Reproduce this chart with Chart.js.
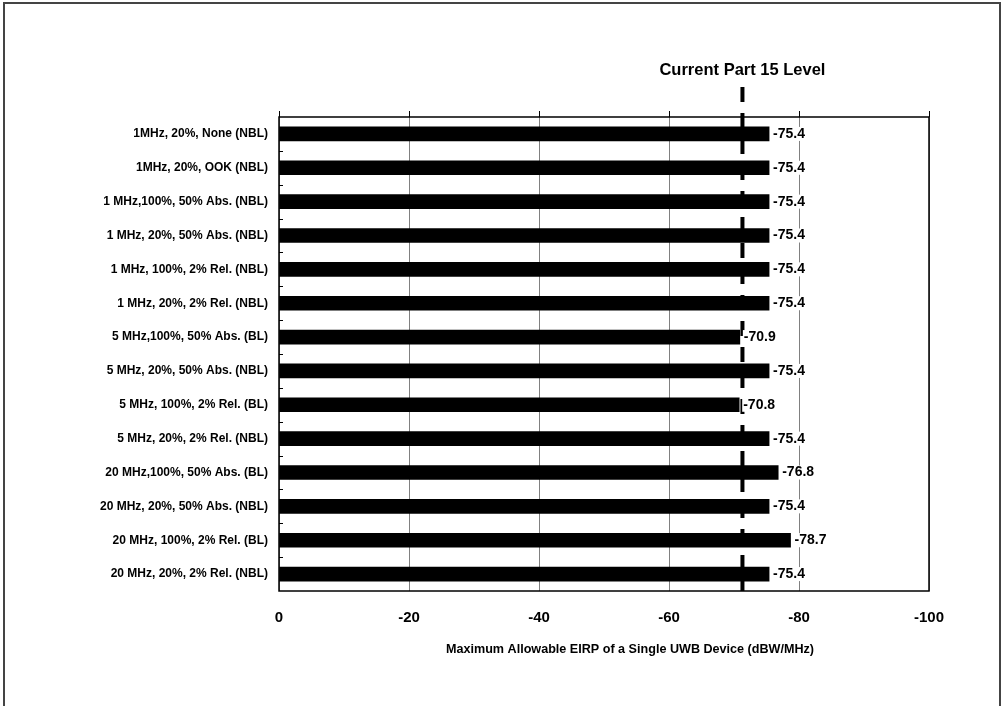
<!DOCTYPE html>
<html>
<head>
<meta charset="utf-8">
<script src="https://cdn.jsdelivr.net/npm/chart.js@4.4.1/dist/chart.umd.min.js"></script>
<style>
    body { margin: 0; background: #fff; overflow: hidden; }
    #wrap { position: relative; width: 1002px; height: 706px; }
    #frame { position: absolute; left: 3px; top: 2px; width: 998px; height: 740px; border: 2px solid #444; box-sizing: border-box; }
    canvas { position: absolute; left: 0; top: 0; }
</style>
</head>
<body>
<div id="wrap">
    <div id="frame"></div>
    <canvas id="eirpChart" width="1002" height="706"></canvas>
</div>
<script>
const categories = [
    '1MHz, 20%, None (NBL)',
    '1MHz, 20%, OOK (NBL)',
    '1 MHz,100%, 50% Abs. (NBL)',
    '1 MHz, 20%, 50% Abs. (NBL)',
    '1 MHz, 100%, 2% Rel. (NBL)',
    '1 MHz, 20%, 2% Rel. (NBL)',
    '5 MHz,100%, 50% Abs. (BL)',
    '5 MHz, 20%, 50% Abs. (NBL)',
    '5 MHz, 100%, 2% Rel. (BL)',
    '5 MHz, 20%, 2% Rel. (NBL)',
    '20 MHz,100%, 50% Abs. (BL)',
    '20 MHz, 20%, 50% Abs. (NBL)',
    '20 MHz, 100%, 2% Rel. (BL)',
    '20 MHz, 20%, 2% Rel. (NBL)'
];
const eirpValues = [-75.4, -75.4, -75.4, -75.4, -75.4, -75.4, -70.9, -75.4, -70.8, -75.4, -76.8, -75.4, -78.7, -75.4];
const xTickValues = [0, -20, -40, -60, -80, -100];
const part15Level = -71.3;
const part15Label = 'Current Part 15 Level';
const xTitle = 'Maximum Allowable EIRP of a Single UWB Device (dBW/MHz)';

const FONT = "'Liberation Sans', Arial, sans-serif";
Chart.defaults.font.family = FONT;
Chart.defaults.color = '#000';

// extra marks: plot frame, tick marks, Part 15 line, value labels, axis title
const overlay = {
    id: 'overlay',
    afterDatasetsDraw(chart) {
        const { ctx, chartArea: a, scales: { x, y } } = chart;
        ctx.save();

        ctx.strokeStyle = '#000';
        ctx.lineWidth = 1.5;
        ctx.strokeRect(a.left, a.top, a.right - a.left, a.bottom - a.top);

        ctx.lineWidth = 1;
        x.ticks.forEach(t => {
            const px = Math.round(x.getPixelForValue(t.value)) + 0.5;
            ctx.beginPath();
            ctx.moveTo(px, a.top - 6);
            ctx.lineTo(px, a.top);
            ctx.stroke();
        });
        for (let i = 1; i < categories.length; i++) {
            const py = Math.round((y.getPixelForValue(i - 1) + y.getPixelForValue(i)) / 2) + 0.5;
            ctx.beginPath();
            ctx.moveTo(a.left, py);
            ctx.lineTo(a.left + 4, py);
            ctx.stroke();
        }

        const lx = x.getPixelForValue(part15Level);
        ctx.setLineDash([15, 11]);
        ctx.lineWidth = 4;
        ctx.beginPath();
        ctx.moveTo(lx, a.top - 30);
        ctx.lineTo(lx, a.bottom);
        ctx.stroke();
        ctx.setLineDash([]);

        ctx.fillStyle = '#000';
        ctx.font = 'bold 16.5px ' + FONT;
        ctx.textAlign = 'center';
        ctx.textBaseline = 'middle';
        ctx.fillText(part15Label, lx, a.top - 47);

        ctx.font = 'bold 14px ' + FONT;
        ctx.textAlign = 'left';
        chart.getDatasetMeta(0).data.forEach((bar, i) => {
            const txt = eirpValues[i].toFixed(1);
            const w = ctx.measureText(txt).width;
            const tx = bar.x + 4;
            ctx.fillStyle = '#fff';
            ctx.fillRect(tx - 1, bar.y - 7, w + 1, 14);
            ctx.fillStyle = '#000';
            ctx.fillText(txt, tx, bar.y);
        });

        ctx.font = 'bold 12.6px ' + FONT;
        ctx.textAlign = 'center';
        ctx.fillText(xTitle, (a.left + a.right) / 2 + 26, 650);
        ctx.restore();
    }
};

const ctx = document.getElementById('eirpChart').getContext('2d');
new Chart(ctx, {
    type: 'bar',
    data: {
        labels: categories,
        datasets: [{
            data: eirpValues,
            backgroundColor: '#000',
            borderWidth: 0,
            barThickness: 14
        }]
    },
    options: {
        indexAxis: 'y',
        responsive: false,
        animation: false,
        devicePixelRatio: 1,
        layout: { padding: { top: 117, right: 73, bottom: 0, left: 0 } },
        plugins: { legend: { display: false }, tooltip: { enabled: false } },
        scales: {
            x: {
                min: -100,
                max: 0,
                reverse: true,
                afterBuildTicks: scale => {
                    scale.ticks = xTickValues.map(v => ({ value: v }));
                },
                afterFit: scale => { scale.height = 115; },
                grid: { color: '#808080', lineWidth: 1, drawTicks: false },
                border: { display: false },
                ticks: { padding: 18, font: { size: 15, weight: 'bold' } }
            },
            y: {
                afterFit: scale => { scale.width = 279; },
                grid: { display: false },
                border: { display: false },
                ticks: { padding: 3, font: { size: 12, weight: 'bold' } }
            }
        }
    },
    plugins: [overlay]
});
</script>
</body>
</html>
